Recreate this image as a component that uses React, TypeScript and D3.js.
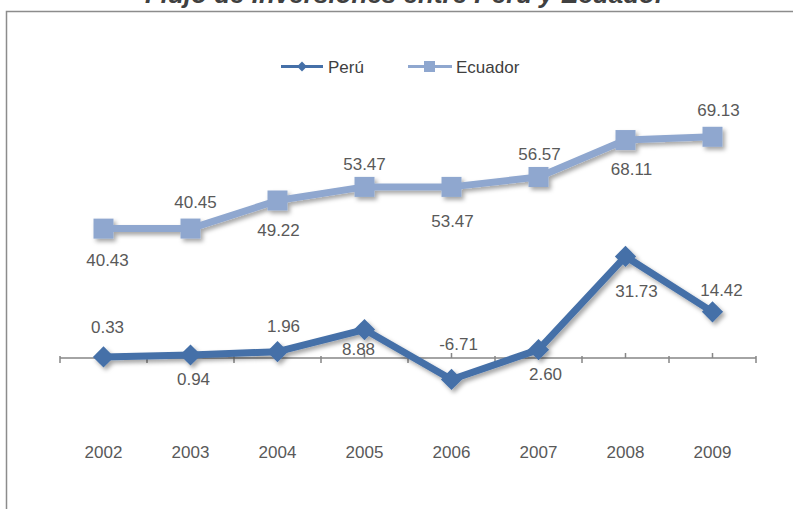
import { useEffect, useRef } from "react";
import * as d3 from "d3";

const FONT = "'Liberation Sans', Arial, sans-serif";

const TITLE = "Flujo de Inversiones entre Perú y Ecuador";
const years = ["2002", "2003", "2004", "2005", "2006", "2007", "2008", "2009"];
const peru = [0.33, 0.94, 1.96, 8.88, -6.71, 2.6, 31.73, 14.42];
const ecuador = [40.43, 40.45, 49.22, 53.47, 53.47, 56.57, 68.11, 69.13];
const seriesNames = ["Perú", "Ecuador"];

// label placement relative to marker centre (dx, baseline dy) - hand placed as in the source
const peruLabelOffset: [number, number][] = [[4, -24], [3, 30], [6, -20], [-6, 25], [7, -29], [7, 30], [11, 41], [9, -16]];
const ecuadorLabelOffset: [number, number][] = [[4, 37], [5, -21], [1, 36], [0, -17], [1, 40], [1, -17], [6, 35], [6, -21]];

const PERU_COLOR = "#4570a8";
const ECU_COLOR = "#8fa7cf";

export default function App() {
  const svgRef = useRef<SVGSVGElement | null>(null);

  useEffect(() => {
    if (!svgRef.current) return;
    const width = 793, height = 509;
    const svg = d3.select(svgRef.current);
    svg.selectAll("*").remove();
    svg.attr("width", width).attr("height", height);

    const defs = svg.append("defs");
    const f = defs.append("filter").attr("id", "shadow")
      .attr("x", "-20%").attr("y", "-20%").attr("width", "140%").attr("height", "140%");
    f.append("feDropShadow").attr("dx", 2.5).attr("dy", 3).attr("stdDeviation", 2)
      .attr("flood-color", "#000").attr("flood-opacity", 0.35);

    svg.append("rect").attr("width", width).attr("height", height).attr("fill", "#fff");

    // Title (cut off at top)
    svg.append("text")
      .attr("x", 405).attr("y", 3)
      .attr("text-anchor", "middle").attr("font-family", FONT)
      .attr("font-size", 26).attr("font-weight", 700).attr("font-style", "italic")
      .attr("fill", "#404040").text(TITLE);

    // chart frame, runs off the right and bottom edges
    svg.append("rect")
      .attr("x", 6.5).attr("y", 11.5).attr("width", 1000).attr("height", 1000)
      .attr("fill", "none").attr("stroke", "#8c8c8c").attr("stroke-width", 1.5);

    const x = d3.scaleBand().domain(years).range([60, 756]);
    const cx = (d: string) => (x(d) as number) + x.bandwidth() / 2;
    const y = d3.scaleLinear().domain([-20, 80]).range([422, 102]);

    // category axis at zero
    const axisY = y(0);
    const g = svg.append("g");
    g.append("line").attr("x1", 60).attr("x2", 756).attr("y1", axisY).attr("y2", axisY)
      .attr("stroke", "#868686").attr("stroke-width", 1.5);
    const bounds = years.map(d => x(d) as number).concat([x.range()[1]]);
    g.selectAll(".tick-major").data(bounds).enter().append("line")
      .attr("x1", d => d).attr("x2", d => d).attr("y1", axisY - 2).attr("y2", axisY + 5)
      .attr("stroke", "#868686").attr("stroke-width", 1.5);
    g.selectAll(".tick-minor").data(years).enter().append("line")
      .attr("x1", d => cx(d)).attr("x2", d => cx(d)).attr("y1", axisY - 5).attr("y2", axisY)
      .attr("stroke", "#868686").attr("stroke-width", 1.5);

    // category labels at the bottom of the plot area
    g.selectAll(".cat").data(years).enter().append("text")
      .attr("x", d => cx(d)).attr("y", y(-20) + 36)
      .attr("text-anchor", "middle").attr("font-family", FONT).attr("font-size", 17)
      .attr("fill", "#595959").text(d => d);

    const line = d3.line<number>().x((_, i) => cx(years[i])).y(v => y(v));

    // Ecuador
    const ge = svg.append("g").attr("filter", "url(#shadow)");
    ge.append("path").datum(ecuador).attr("d", line)
      .attr("fill", "none").attr("stroke", ECU_COLOR).attr("stroke-width", 7)
      .attr("stroke-linejoin", "round");
    ge.selectAll("rect").data(ecuador).enter().append("rect")
      .attr("x", (_, i) => cx(years[i]) - 10).attr("y", v => y(v) - 10)
      .attr("width", 20).attr("height", 20).attr("fill", ECU_COLOR);

    // Perú
    const gp = svg.append("g").attr("filter", "url(#shadow)");
    gp.append("path").datum(peru).attr("d", line)
      .attr("fill", "none").attr("stroke", PERU_COLOR).attr("stroke-width", 7)
      .attr("stroke-linejoin", "round");
    const diamond = d3.symbol().type(d3.symbolSquare).size(15 * 15);
    gp.selectAll(".dia").data(peru).enter().append("path")
      .attr("d", diamond)
      .attr("transform", (v, i) => `translate(${cx(years[i])},${y(v)}) rotate(45)`)
      .attr("fill", PERU_COLOR);

    // data labels
    const labels = (vals: number[], offs: [number, number][]) => {
      svg.append("g").selectAll("text").data(vals).enter().append("text")
        .attr("x", (_, i) => cx(years[i]) + offs[i][0])
        .attr("y", (v, i) => y(v) + offs[i][1])
        .attr("text-anchor", "middle").attr("font-family", FONT).attr("font-size", 17)
        .attr("fill", "#595959").text(v => v.toFixed(2));
    };
    labels(ecuador, ecuadorLabelOffset);
    labels(peru, peruLabelOffset);

    // Legend
    const lg = svg.append("g").attr("font-family", FONT).attr("font-size", 17).attr("fill", "#404040");
    const ly = 66.5;
    lg.append("line").attr("x1", 281).attr("x2", 323).attr("y1", ly).attr("y2", ly)
      .attr("stroke", PERU_COLOR).attr("stroke-width", 3);
    lg.append("path").attr("d", d3.symbol().type(d3.symbolSquare).size(7 * 7))
      .attr("transform", `translate(302,${ly}) rotate(45)`).attr("fill", PERU_COLOR);
    lg.append("text").attr("x", 328).attr("y", ly + 6).text(seriesNames[0]);
    lg.append("line").attr("x1", 408).attr("x2", 452).attr("y1", ly).attr("y2", ly)
      .attr("stroke", ECU_COLOR).attr("stroke-width", 3);
    lg.append("rect").attr("x", 424).attr("y", ly - 5.5).attr("width", 11).attr("height", 11)
      .attr("fill", ECU_COLOR);
    lg.append("text").attr("x", 456).attr("y", ly + 6).text(seriesNames[1]);
  }, []);

  return <svg ref={svgRef} style={{ position: "absolute", left: 0, top: 0, display: "block" }} />;
}
